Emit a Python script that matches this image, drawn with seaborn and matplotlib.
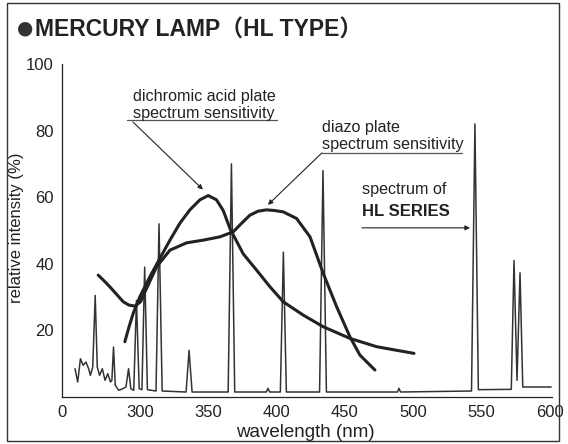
import matplotlib
matplotlib.use("Agg")
import matplotlib.pyplot as plt
import seaborn as sns
from matplotlib.patches import Rectangle

# Mercury lamp emission spectrum (wavelength nm, relative intensity %)
spec_wl = [252.5, 254.5, 256.5, 258.5, 260.5, 262.5, 263.8, 265.5, 267.3, 268.8,
           270.5, 272.5, 274.5, 276.5, 278.5, 279.5, 280.7, 282.0, 284.5, 287.5,
           289.8, 291.7, 293.4, 295.5, 297.5, 299.5, 301.5, 303.5, 305.5, 311.8,
           314.0, 316.3, 333.8, 336.0, 338.2, 364.6, 367.0, 369.4, 392.5, 393.7,
           395.0, 402.8, 405.0, 407.2, 431.5, 434.0, 436.5, 488.5, 489.6, 490.8,
           542.7, 545.2, 547.7, 571.8, 573.8, 576.0, 578.2, 580.2, 601.0]
spec_val = [8.5, 4.5, 11.5, 9.5, 10.5, 8.5, 6.5, 9.0, 30.5, 9.0,
            6.5, 8.5, 5.0, 7.0, 4.5, 5.0, 15.0, 3.5, 2.0, 2.5,
            3.0, 8.5, 2.5, 2.0, 29.0, 2.5, 2.2, 39.0, 2.2, 1.8,
            52.0, 1.8, 1.5, 14.0, 1.5, 1.5, 70.0, 1.5, 1.5, 2.6,
            1.5, 1.5, 43.5, 1.5, 1.5, 68.0, 1.5, 1.5, 2.6, 1.5,
            1.8, 82.0, 2.2, 2.3, 41.0, 5.0, 37.3, 3.0, 3.0]

# dichromic acid plate spectrum sensitivity
dichro_wl = [289.0, 292.0, 295.1, 300.0, 307.3, 314.6, 322.0, 329.3, 336.6, 343.9,
             350.0, 356.1, 361.0, 366.0, 375.6, 385.4, 395.2, 404.9, 419.5, 434.2,
             453.7, 473.3, 500.6]
dichro_val = [16.6, 21.0, 25.1, 30.1, 36.1, 41.6, 47.1, 52.2, 56.2, 59.2,
              60.5, 59.2, 56.0, 50.5, 43.0, 38.1, 33.1, 28.6, 24.6, 21.1,
              17.6, 15.1, 13.1]

# diazo plate spectrum sensitivity
diazo_wl = [269.5, 274.0, 278.0, 283.0, 287.8, 292.0, 296.3, 300.5, 304.9, 312.2,
            322.0, 334.2, 346.3, 358.6, 368.3, 374.0, 380.5, 386.5, 392.7, 398.5,
            404.9, 414.7, 424.5, 434.2, 444.0, 453.7, 461.0, 472.0]
diazo_val = [36.6, 34.8, 33.1, 30.8, 28.6, 27.6, 27.3, 28.6, 32.6, 39.1,
             44.1, 46.3, 47.1, 48.1, 49.6, 52.0, 54.6, 55.8, 56.2, 56.0,
             55.6, 53.6, 48.1, 37.1, 27.1, 18.1, 12.6, 8.1]

x_ticks = [243, 300, 350, 400, 450, 500, 550, 600]
x_labels = ["0", "300", "350", "400", "450", "500", "550", "600"]
y_ticks = [20, 40, 60, 80, 100]

sns.set_style("white")
plt.rcParams["font.family"] = ["Liberation Sans", "Noto Sans CJK JP", "DejaVu Sans"]
ink = "#222222"

fig = plt.figure(figsize=(5.68, 4.44), dpi=100)
ax = fig.add_axes([62 / 568, 1 - 397 / 444, 490 / 568, 333 / 444])

sns.lineplot(x=spec_wl, y=spec_val, ax=ax, color="#333333", lw=1.1,
             sort=False, estimator=None)
sns.lineplot(x=dichro_wl, y=dichro_val, ax=ax, color=ink, lw=2.2,
             sort=False, estimator=None)
sns.lineplot(x=diazo_wl, y=diazo_val, ax=ax, color=ink, lw=2.2,
             sort=False, estimator=None)

ax.set_xlim(243, 601.6)
ax.set_ylim(0, 100)
ax.set_xticks(x_ticks)
ax.set_xticklabels(x_labels)
ax.set_yticks(y_ticks)
ax.tick_params(axis="both", direction="out", length=3, width=0.8,
               color=ink, labelsize=12, labelcolor=ink, pad=3)
for side in ["top", "right"]:
    ax.spines[side].set_visible(False)
for side in ["left", "bottom"]:
    ax.spines[side].set_color(ink)
    ax.spines[side].set_linewidth(0.9)
ax.set_xlabel("")
ax.set_ylabel("")

# annotations
ax.text(294.9, 90.1, "dichromic acid plate", fontsize=11.6, color=ink, va="center")
ax.text(294.9, 85.0, "spectrum sensitivity", fontsize=11.6, color=ink, va="center")
ax.plot([290.5, 400.3], [83.2, 83.2], color="#555555", lw=0.9)
ax.annotate("", xy=(346.1, 62.3), xytext=(294.9, 82.6),
            arrowprops=dict(arrowstyle="-|>", color=ink, lw=0.8,
                            mutation_scale=7, shrinkA=0, shrinkB=0))

ax.text(433.2, 80.8, "diazo plate", fontsize=11.6, color=ink, va="center")
ax.text(433.2, 75.7, "spectrum sensitivity", fontsize=11.6, color=ink, va="center")
ax.plot([433.2, 535.7], [73.3, 73.3], color="#555555", lw=0.9)
ax.annotate("", xy=(393.7, 57.7), xytext=(433.2, 73.3),
            arrowprops=dict(arrowstyle="-|>", color=ink, lw=0.8,
                            mutation_scale=7, shrinkA=0, shrinkB=0))

ax.text(462.5, 62.2, "spectrum of", fontsize=11.6, color=ink, va="center")
ax.text(462.5, 55.6, "HL SERIES", fontsize=12, fontweight="bold",
        color=ink, va="center")
ax.annotate("", xy=(541.6, 50.8), xytext=(462.5, 50.8),
            arrowprops=dict(arrowstyle="-|>", color=ink, lw=0.8,
                            mutation_scale=7, shrinkA=0, shrinkB=0))

fig.text(17 / 568, 1 - 27.5 / 444, "●", fontsize=13.5, family="DejaVu Sans",
         color="#333333", va="center", ha="left")
fig.text(35 / 568, 1 - 30.5 / 444, "MERCURY LAMP（HL TYPE）", fontsize=16.5,
         fontweight="bold", color=ink, va="center", ha="left")
fig.text(17 / 568, 1 - 228 / 444, "relative intensity (%)", fontsize=12,
         rotation=90, color=ink, va="center", ha="center")
fig.text(305 / 568, 1 - 432 / 444, "wavelength (nm)", fontsize=13.5,
         color=ink, va="center", ha="center")

fig.patches.append(Rectangle((7 / 568, 3 / 444), 552 / 568, 438 / 444,
                             transform=fig.transFigure, fill=False,
                             edgecolor="#333333", lw=1.0))

fig.savefig("out.png", dpi=100)
